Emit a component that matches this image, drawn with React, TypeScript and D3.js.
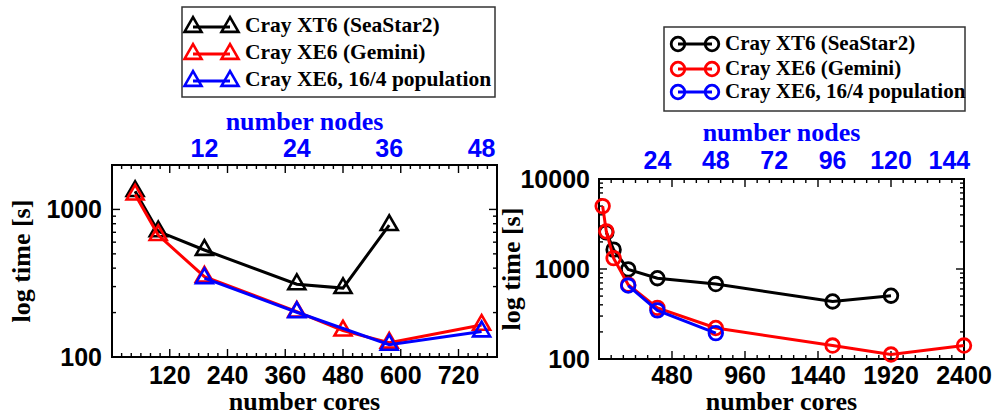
import React from 'react'
import * as d3 from 'd3'

// ---- data (cores vs wallclock time in seconds) ----
const seriesNames = ['Cray XT6 (SeaStar2)', 'Cray XE6 (Gemini)', 'Cray XE6, 16/4 population']
const seriesColors = ['#000000', '#ff0000', '#0000ff']

// left panel (triangles)
const leftXT6Cores = [48, 96, 192, 384, 480, 576]
const leftXT6Time = [1330, 710, 531, 311, 293, 783]
const leftXE6Cores = [48, 96, 192, 384, 480, 576, 768]
const leftXE6Time = [1260, 670, 350, 203, 151, 125, 165]
const leftPopCores = [192, 384, 576, 768]
const leftPopTime = [342, 201, 121, 149]
const leftCoreTicks = [120, 240, 360, 480, 600, 720]
const leftNodeTicks = [12, 24, 36, 48]

// right panel (circles)
const rightXT6Cores = [48, 96, 192, 384, 768, 1536, 1920]
const rightXT6Time = [2550, 1640, 990, 790, 680, 436, 505]
const rightXE6Cores = [24, 48, 96, 192, 384, 768, 1536, 1920, 2400]
const rightXE6Time = [5000, 2620, 1320, 670, 370, 221, 141, 112, 141]
const rightPopCores = [192, 384, 768]
const rightPopTime = [655, 347, 194]
const rightCoreTicks = [480, 960, 1440, 1920, 2400]
const rightNodeTicks = [24, 48, 72, 96, 120, 144]

const coresPerNode = 16
const SANS = '"Liberation Sans", Arial, sans-serif'
const SERIF = '"Liberation Serif", "Times New Roman", serif'

type Series = { cores: number[]; time: number[]; color: string }

function Marker({ shape, x, y, color }: { shape: string; x: number; y: number; color: string }) {
  if (shape === 'circle') {
    return <circle cx={x} cy={y} r={6.8} fill="none" stroke={color} strokeWidth={2.8} />
  }
  const s = 17
  const h = (s * Math.sqrt(3)) / 2
  const pts = [
    [x, y - (2 * h) / 3],
    [x - s / 2, y + h / 3],
    [x + s / 2, y + h / 3],
  ]
  return <polygon points={pts.map((p) => p.join(',')).join(' ')} fill="none" stroke={color} strokeWidth={2.6} />
}

function Panel(props: {
  x0: number; x1: number; y0: number; y1: number
  xMax: number; xMinor: number; xMajor: number
  yDomain: [number, number]
  coreTicks: number[]; nodeTicks: number[]
  series: Series[]; shape: string
  nodeTickY: number; nodeTitleY: number; yLabelEnd: number; yTitleX: number
  legend: { x: number; y: number; w: number; h: number; rows: number[]; mx: [number, number]; tx: number; fs: number; dy: number }
}) {
  const { x0, x1, y0, y1, shape, legend } = props
  const x = d3.scaleLinear().domain([0, props.xMax]).range([x0, x1])
  const y = d3.scaleLog().domain(props.yDomain).range([y1, y0])
  const line = d3.line<[number, number]>().x((d) => x(d[0])).y((d) => y(d[1]))
  const xt = d3.range(props.xMinor, props.xMax, props.xMinor)
  const yt = y.ticks().filter((v) => v > props.yDomain[0] && v < props.yDomain[1])
  const isDecade = (v: number) => Math.abs(Math.log10(v) - Math.round(Math.log10(v))) < 1e-6
  const yMajors = yt.concat(props.yDomain).filter(isDecade)
  const cx = (x0 + x1) / 2
  const cy = (y0 + y1) / 2

  return (
    <g>
      {/* ticks, mirrored on all sides */}
      {xt.map((v) => {
        const len = v % props.xMajor === 0 ? 8 : 4
        return (
          <g key={'xt' + v} stroke="#000" strokeWidth={1.4}>
            <line x1={x(v)} x2={x(v)} y1={y1} y2={y1 - len} />
            <line x1={x(v)} x2={x(v)} y1={y0} y2={y0 + len} />
          </g>
        )
      })}
      {yt.map((v) => {
        const len = isDecade(v) ? 8 : 4
        return (
          <g key={'yt' + v} stroke="#000" strokeWidth={1.4}>
            <line x1={x0} x2={x0 + len} y1={y(v)} y2={y(v)} />
            <line x1={x1} x2={x1 - len} y1={y(v)} y2={y(v)} />
          </g>
        )
      })}
      <rect x={x0} y={y0} width={x1 - x0} height={y1 - y0} fill="none" stroke="#000" strokeWidth={2} />

      {/* tick labels */}
      {props.coreTicks.map((v) => (
        <text key={'xl' + v} x={x(v)} y={384} textAnchor="middle" fontFamily={SANS} fontWeight="bold" fontSize={25}>
          {v}
        </text>
      ))}
      {props.nodeTicks.map((v) => (
        <text key={'nl' + v} x={x(v * coresPerNode)} y={props.nodeTickY} textAnchor="middle" fontFamily={SANS} fontWeight="bold" fontSize={25} fill="#0000ff">
          {v}
        </text>
      ))}
      {yMajors.map((v) => (
        <text key={'yl' + v} x={props.yLabelEnd} y={y(v) + 9} textAnchor="end" fontFamily={SANS} fontWeight="bold" fontSize={25}>
          {v}
        </text>
      ))}

      {/* axis titles */}
      <text x={cx} y={410} textAnchor="middle" fontFamily={SERIF} fontWeight="bold" fontSize={26}>
        number cores
      </text>
      <text x={cx} y={props.nodeTitleY} textAnchor="middle" fontFamily={SERIF} fontWeight="bold" fontSize={26} fill="#0000ff">
        number nodes
      </text>
      <text transform={`translate(${props.yTitleX},${cy}) rotate(-90)`} textAnchor="middle" fontFamily={SERIF} fontWeight="bold" fontSize={26}>
        log time [s]
      </text>

      {/* series */}
      {props.series.map((s, i) => {
        const pts = s.cores.map((c, j) => [c, s.time[j]] as [number, number])
        return (
          <g key={'s' + i}>
            <path d={line(pts) || ''} fill="none" stroke={s.color} strokeWidth={3} />
            {pts.map((p, j) => (
              <Marker key={j} shape={shape} x={x(p[0])} y={y(p[1])} color={s.color} />
            ))}
          </g>
        )
      })}

      {/* legend */}
      <rect x={legend.x} y={legend.y} width={legend.w} height={legend.h} fill="#fff" stroke="#333" strokeWidth={1.5} />
      {seriesNames.map((name, i) => {
        const by = legend.rows[i]
        const my = by - legend.dy
        return (
          <g key={'lg' + i}>
            <line x1={legend.mx[0]} x2={legend.mx[1]} y1={my} y2={my} stroke={seriesColors[i]} strokeWidth={3} />
            <Marker shape={shape} x={legend.mx[0]} y={my} color={seriesColors[i]} />
            <Marker shape={shape} x={legend.mx[1]} y={my} color={seriesColors[i]} />
            <text x={legend.tx} y={by} fontFamily={SERIF} fontWeight="bold" fontSize={legend.fs}>
              {name}
            </text>
          </g>
        )
      })}
    </g>
  )
}

export default function App() {
  const leftSeries: Series[] = [
    { cores: leftXT6Cores, time: leftXT6Time, color: seriesColors[0] },
    { cores: leftXE6Cores, time: leftXE6Time, color: seriesColors[1] },
    { cores: leftPopCores, time: leftPopTime, color: seriesColors[2] },
  ]
  const rightSeries: Series[] = [
    { cores: rightXT6Cores, time: rightXT6Time, color: seriesColors[0] },
    { cores: rightXE6Cores, time: rightXE6Time, color: seriesColors[1] },
    { cores: rightPopCores, time: rightPopTime, color: seriesColors[2] },
  ]
  return (
    <svg width={994} height={415} style={{ position: 'absolute', left: 0, top: 0, background: '#fff' }}>
      <Panel
        x0={112} x1={497} y0={165} y1={357}
        xMax={800} xMinor={20} xMajor={120}
        yDomain={[100, 2000]}
        coreTicks={leftCoreTicks} nodeTicks={leftNodeTicks}
        series={leftSeries} shape="triangle"
        nodeTickY={157} nodeTitleY={130} yLabelEnd={102} yTitleX={30}
        legend={{ x: 182, y: 7, w: 313, h: 90, rows: [32, 59, 86], mx: [193, 230], tx: 245, fs: 21.5, dy: 5 }}
      />
      <Panel
        x0={599} x1={964} y0={179} y1={359}
        xMax={2400} xMinor={80} xMajor={480}
        yDomain={[100, 10000]}
        coreTicks={rightCoreTicks} nodeTicks={rightNodeTicks}
        series={rightSeries} shape="circle"
        nodeTickY={169} nodeTitleY={141} yLabelEnd={590} yTitleX={520}
        legend={{ x: 664, y: 27, w: 301, h: 84, rows: [50, 75, 98], mx: [678, 712], tx: 725, fs: 21, dy: 6 }}
      />
    </svg>
  )
}
